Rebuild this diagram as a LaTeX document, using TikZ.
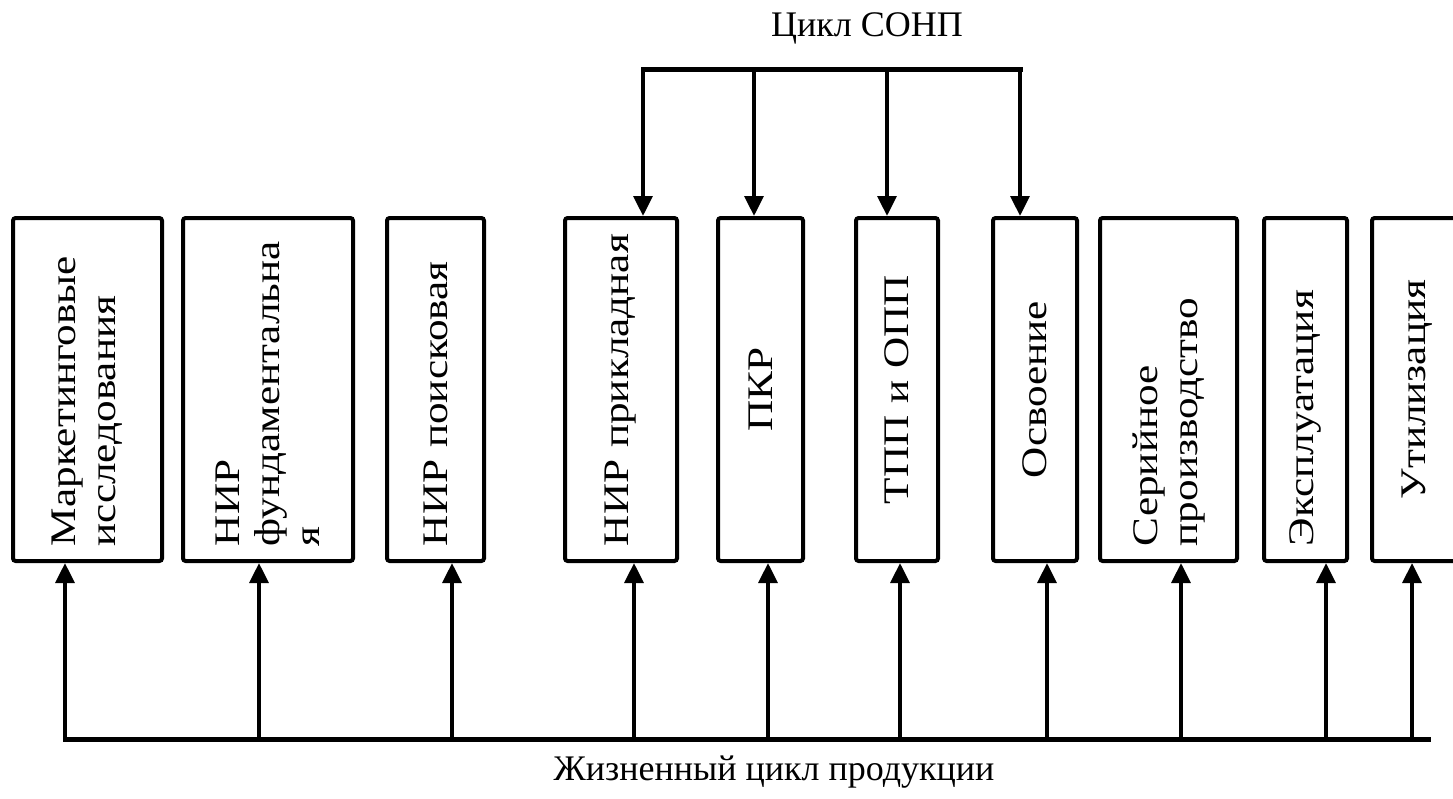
\documentclass[tikz,border=0pt]{standalone}
\usepackage{fontspec}
\setmainfont{Liberation Serif}
\newfontfamily\stagefont[FakeStretch=1.2]{Liberation Serif}
\usetikzlibrary{arrows.meta}

\begin{document}
\begin{tikzpicture}[x=0.75pt,y=-0.75pt,
  stage/.style={draw, line width=3pt, rounded corners=2pt, rotate=90,
    minimum width=257.25pt, inner xsep=11pt, inner ysep=0pt,
    text width=235pt, align=left,
    font=\fontsize{27}{30}\selectfont\stagefont},
  stagec/.style={stage, align=center},
  flow/.style={line width=3pt, -{Triangle[length=15pt,width=14pt]}},
  bus/.style={line width=3.75pt, line cap=rect},
  caption/.style={font=\fontsize{27}{32}\selectfont, anchor=base}]

\useasboundingbox (0,0) rectangle (1453,799);
\clip (0,0) rectangle (1453,799);

% the stages of the life cycle
\node[stage, minimum height=111.75pt] (b1) at (87.5,389.5) {Маркетинговые\\исследования};
\node[stage, minimum height=127.5pt] (b2) at (268,389.5) {НИР\\фундаментальна\\я};
\node[stage, minimum height=72.75pt] (b3) at (435.5,389.5) {НИР~поисковая};
\node[stage, minimum height=84pt] (b4) at (621,389.5) {НИР~прикладная};
\node[stagec, minimum height=63.75pt] (b5) at (760.5,389.5) {ПКР};
\node[stagec, minimum height=61.5pt] (b6) at (897,389.5) {ТПП и ОПП};
\node[stagec, minimum height=63pt] (b7) at (1035,389.5) {Освоение};
\node[stage, minimum height=102.75pt] (b8) at (1168.5,389.5) {Серийное\\производство};
\node[stage, minimum height=62.25pt] (b9) at (1305.5,389.5) {Эксплуатация};
\node[stagec, minimum height=67.5pt] (b10) at (1417,389.5) {Утилизация};

% the upper bus
\coordinate (t1) at (643,70);
\coordinate (t2) at (754,70);
\coordinate (t3) at (887,70);
\coordinate (t4) at (1020,70);
\draw[bus] (t1) -- (t4);
\draw[flow] (t1) -- (t1 |- b4.east);
\draw[flow] (t2) -- (t2 |- b5.east);
\draw[flow] (t3) -- (t3 |- b6.east);
\draw[flow] (t4) -- (t4 |- b7.east);

% the lower bus
\coordinate (u1) at (65,739);
\coordinate (u2) at (259,739);
\coordinate (u3) at (452,739);
\coordinate (u4) at (634,739);
\coordinate (u5) at (768,739);
\coordinate (u6) at (900,739);
\coordinate (u7) at (1047,739);
\coordinate (u8) at (1181,739);
\coordinate (u9) at (1326,739);
\coordinate (u10) at (1412,739);
\coordinate (uend) at (1428,739);
\draw[bus] (u1) -- (uend);
\draw[flow] (u1) -- (u1 |- b1.west);
\draw[flow] (u2) -- (u2 |- b2.west);
\draw[flow] (u3) -- (u3 |- b3.west);
\draw[flow] (u4) -- (u4 |- b4.west);
\draw[flow] (u5) -- (u5 |- b5.west);
\draw[flow] (u6) -- (u6 |- b6.west);
\draw[flow] (u7) -- (u7 |- b7.west);
\draw[flow] (u8) -- (u8 |- b8.west);
\draw[flow] (u9) -- (u9 |- b9.west);
\draw[flow] (u10) -- (u10 |- b10.west);

% labels of the two cycles
\node[caption] (sonp) at (867,37) {Цикл СОНП};
\node[caption] (life) at (774,780) {Жизненный цикл продукции};
\end{tikzpicture}
\end{document}
